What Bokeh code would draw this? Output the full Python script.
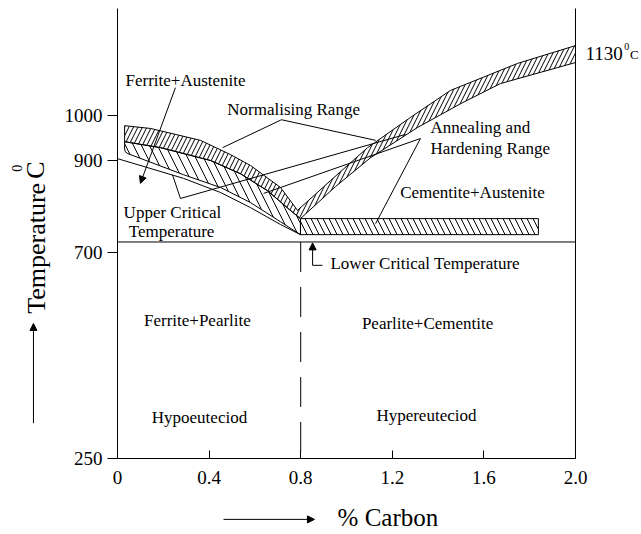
import math
from bokeh.plotting import figure
from bokeh.models import (Range1d, FixedTicker, LinearAxis, Arrow,
                          NormalHead, ColumnDataSource, CustomJSTickFormatter)
from bokeh.core.properties import value
from bokeh.embed import file_html
from bokeh.resources import INLINE

FONT = "Liberation Serif"

# ---- axes ----
x_ticks = [0, 0.4, 0.8, 1.2, 1.6, 2.0]
y_ticks = [250, 700, 900, 1000]
x_min, x_max = 0, 2.0
t_min, t_max = 250, 1233

eutectoid_c = 0.8
lower_critical_t = 723

# ---- normalising range (hypo side), top / bottom edges ----
norm_hypo_top_x = [0.031, 0.144, 0.362, 0.493, 0.581, 0.712, 0.786]
norm_hypo_top_t = [977, 971, 945, 914, 890, 842, 792]
norm_hypo_bot_x = [0.031, 0.188, 0.406, 0.537, 0.655, 0.755, 0.799]
norm_hypo_bot_t = [942, 929, 901, 872, 835, 792, 774]
# ---- normalising range (hyper side) ----
norm_hyper_top_x = [0.786, 0.930, 1.092, 1.279, 1.454, 1.747, 2.0]
norm_hyper_top_t = [792, 857, 929, 995, 1054, 1113, 1152]
norm_hyper_bot_x = [0.799, 0.952, 1.105, 1.310, 1.498, 1.672, 2.0]
norm_hyper_bot_t = [774, 844, 907, 973, 1025, 1069, 1115]

# ---- annealing & hardening range ----
anneal_hypo_bot_x = [0.031, 0.034, 0.045, 0.288, 0.450, 0.581, 0.712, 0.799]
anneal_hypo_bot_t = [926, 920, 916, 870, 842, 809, 767, 739]
anneal_hyper_x = [0.799, 1.838]
anneal_hyper_t = [739, 774]

# ---- upper critical temperature line (A3) ----
upper_critical_x = [0, 0.288, 0.450, 0.581, 0.712, 0.799]
upper_critical_t = [905, 862, 831, 798, 761, 739]

# ---- leader lines ----
leader_xs = [[0.459, 0.716, 1.127], [0.638, 1.323, 1.127],
             [0.240, 0.275, 1.258], [0.852, 0.895]]
leader_ts = [[929, 990, 945], [829, 949, 763],
             [870, 818, 958], [672, 672]]

# ---- region labels ----
center_labels = ["Ferrite+Austenite", "Normalising Range", "Cementite+Austenite",
                 "Upper Critical", "Temperature", "Ferrite+Pearlite",
                 "Pearlite+Cementite", "Hypoeuteciod", "Hypereuteciod"]
center_x = [0.297, 0.769, 1.550, 0.240, 0.236, 0.349, 1.354, 0.358, 1.349]
center_t = [1076, 1012, 831, 787, 746, 551, 545, 340, 344]

left_labels = ["Annealing and", "Hardening Range", "Lower Critical Temperature"]
left_x = [1.367, 1.367, 0.930]
left_t = [973, 927, 676]

# ---- figure: plotting frame spans the whole canvas, axes fixed in place ----
W, H = 641, 534
PX_LEFT, PX_PER_C = 117, 229.0      # canvas px of x=0, px per % carbon
PY_BOTTOM, PY_PER_T = 458, 0.45778  # canvas px of T=250, px per degree
xr = Range1d((0 - PX_LEFT) / PX_PER_C, (W - PX_LEFT) / PX_PER_C)
yr = Range1d(t_min - (H - PY_BOTTOM) / PY_PER_T, t_min + PY_BOTTOM / PY_PER_T)

p = figure(width=W, height=H, x_range=xr, y_range=yr, output_backend="svg",
           toolbar_location=None, title_location=None, min_border=0)
p.grid.visible = False
p.outline_line_color = None
p.background_fill_color = "white"
p.border_fill_color = "white"

# bottom axis
xa = p.xaxis[0]
xa.fixed_location = t_min
xa.bounds = (x_min, x_max)
xa.ticker = FixedTicker(ticks=x_ticks)
xa.formatter = CustomJSTickFormatter(code="return tick == 0 ? '0' : tick.toFixed(1)")
xa.major_tick_in = 8
xa.major_tick_out = 0
xa.minor_tick_line_color = None
xa.major_label_standoff = 12
xa.major_label_text_font = FONT
xa.major_label_text_font_size = "19px"
xa.major_label_text_color = "black"
xa.axis_line_color = "black"
xa.major_tick_line_color = "black"

# left axis
ya = p.yaxis[0]
ya.fixed_location = x_min
ya.bounds = (t_min, t_max)
ya.ticker = FixedTicker(ticks=y_ticks)
ya.major_tick_in = 0
ya.major_tick_out = 10
ya.minor_tick_line_color = None
ya.major_label_standoff = 5
ya.major_label_text_font = FONT
ya.major_label_text_font_size = "19px"
ya.major_label_text_color = "black"
ya.axis_line_color = "black"
ya.major_tick_line_color = "black"

# right frame line
ra = LinearAxis(ticker=FixedTicker(ticks=[]), major_label_text_font_size="0px",
                major_tick_line_color=None, minor_tick_line_color=None,
                axis_line_color="black", fixed_location=x_max,
                bounds=(t_min, t_max))
p.add_layout(ra, "right")

# normalising range polygon (V shape)
norm_x = norm_hypo_top_x + norm_hyper_top_x[1:] + norm_hyper_bot_x[::-1] + norm_hypo_bot_x[::-1][1:]
norm_t = norm_hypo_top_t + norm_hyper_top_t[1:] + norm_hyper_bot_t[::-1] + norm_hypo_bot_t[::-1][1:]
p.patch(norm_x, norm_t, fill_color=None, line_color="black", line_width=1,
        hatch_pattern="/", hatch_color="black", hatch_scale=9, hatch_weight=1)

# annealing range (hypo)
ann_x = norm_hypo_bot_x + anneal_hypo_bot_x[::-1]
ann_t = norm_hypo_bot_t + anneal_hypo_bot_t[::-1]
p.patch(ann_x, ann_t, fill_color=None, line_color="black", line_width=1,
        hatch_pattern="\\", hatch_color="black", hatch_scale=16, hatch_weight=1)

# annealing range (hyper) bar
p.quad(left=[anneal_hyper_x[0]], right=[anneal_hyper_x[1]],
       bottom=[anneal_hyper_t[0]], top=[anneal_hyper_t[1]],
       fill_color=None, line_color="black", line_width=1,
       hatch_pattern="\\", hatch_color="black", hatch_scale=12, hatch_weight=1)

# upper critical line
p.line(upper_critical_x, upper_critical_t, line_color="black", line_width=1)

# lower critical line
p.line([x_min, x_max], [lower_critical_t, lower_critical_t], line_color="black", line_width=1)

# eutectoid dashed line
p.line([eutectoid_c, eutectoid_c], [lower_critical_t, t_min], line_color="black",
       line_width=1, line_dash="30 15")

# leader lines
p.multi_line(leader_xs, leader_ts, line_color="black", line_width=1)

head = dict(size=7, fill_color="black", line_color="black")
p.add_layout(Arrow(end=NormalHead(**head), x_start=0.253, y_start=1060,
                   x_end=0.100, y_end=851, line_color="black", line_width=1))
p.add_layout(Arrow(end=NormalHead(**head), x_start=0.852, y_start=672,
                   x_end=0.852, y_end=721, line_color="black", line_width=1))

src_c = ColumnDataSource(dict(x=center_x, y=center_t, text=center_labels))
p.text(x="x", y="y", text="text", source=src_c, text_font=value(FONT),
       text_font_size="17px", text_align="center", text_baseline="middle",
       text_color="black")
src_l = ColumnDataSource(dict(x=left_x, y=left_t, text=left_labels))
p.text(x="x", y="y", text="text", source=src_l, text_font=value(FONT),
       text_font_size="17px", text_align="left", text_baseline="middle",
       text_color="black")

# 1130 degC label at the right edge
p.text(x=[2.044], y=[1135], text=["1130"], text_font=value(FONT), text_font_size="19px",
       text_align="left", text_baseline="middle", text_color="black")
p.text(x=[2.213], y=[1149], text=["0"], text_font=value(FONT), text_font_size="10px",
       text_align="left", text_baseline="middle", text_color="black")
p.text(x=[2.238], y=[1133], text=["C"], text_font=value(FONT), text_font_size="13px",
       text_align="left", text_baseline="middle", text_color="black")

# axis titles
p.text(x=[-0.354], y=[709], text=["Temperature"], text_font=value(FONT),
       text_font_size="26px", text_align="center", text_baseline="middle",
       angle=math.pi / 2, text_color="black")
p.text(x=[-0.358], y=[880], text=["C"], text_font=value(FONT),
       text_font_size="26px", text_align="center", text_baseline="middle",
       angle=math.pi / 2, text_color="black")
p.text(x=[-0.437], y=[884], text=["0"], text_font=value(FONT),
       text_font_size="14px", text_align="center", text_baseline="middle",
       angle=math.pi / 2, text_color="black")
p.text(x=[0.961], y=[121], text=["% Carbon"], text_font=value(FONT),
       text_font_size="25px", text_align="left", text_baseline="middle",
       text_color="black")

p.add_layout(Arrow(end=NormalHead(**head), x_start=-0.367, y_start=327,
                   x_end=-0.367, y_end=545, line_color="black", line_width=1))
p.add_layout(Arrow(end=NormalHead(**head), x_start=0.463, y_start=117,
                   x_end=0.860, y_end=117, line_color="black", line_width=1))

open("out.html", "w").write(file_html(p, INLINE))
